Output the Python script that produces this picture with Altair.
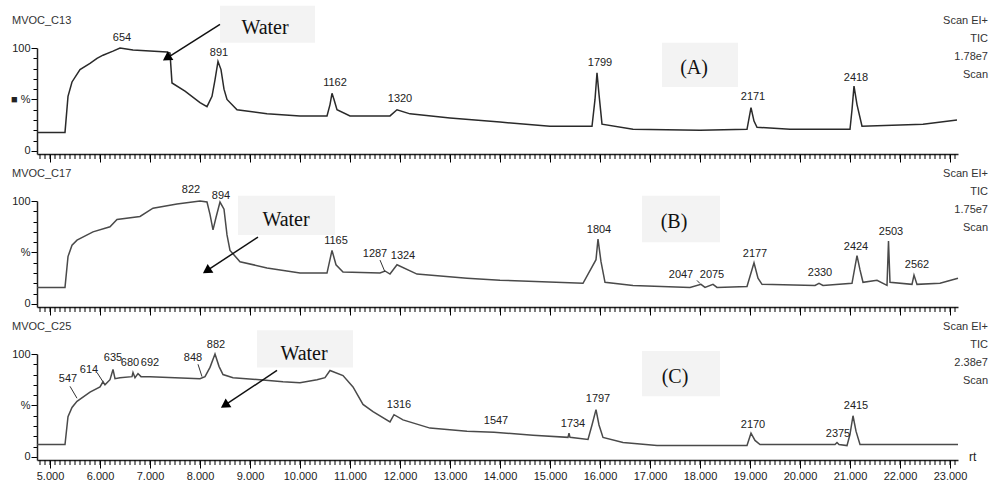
import altair as alt
import pandas as pd
import numpy as np

# ---------------- data: (time [min], relative intensity [%]) ----------------
trace_a = [(4.74, 18), (5.30, 18), (5.36, 53), (5.44, 67), (5.60, 79), (5.80, 85), (5.94, 90), (6.06, 93),
           (6.26, 97), (6.40, 100), (6.66, 98), (7.00, 97), (7.34, 96), (7.40, 95), (7.44, 66), (7.70, 58),
           (8.00, 47), (8.14, 43), (8.24, 53), (8.30, 69), (8.36, 87), (8.42, 79), (8.48, 60), (8.54, 50),
           (8.74, 40), (9.34, 36), (10.00, 34), (10.54, 34), (10.60, 45), (10.64, 56), (10.68, 50), (10.74, 40),
           (11.00, 34), (11.80, 34), (11.94, 40), (12.20, 36), (13.00, 32), (14.00, 28), (15.00, 24), (15.84, 24),
           (15.90, 50), (15.94, 76), (15.98, 55), (16.04, 26), (16.66, 21), (18.00, 20), (18.94, 21), (19.02, 42),
           (19.08, 29), (19.14, 23), (19.80, 21), (21.00, 21), (21.04, 40), (21.08, 63), (21.14, 45), (21.24, 24),
           (22.46, 26), (23.14, 30)]

trace_b = [(4.74, 16), (5.30, 16), (5.36, 46), (5.44, 57), (5.54, 62), (5.86, 70), (6.20, 75), (6.34, 82),
           (6.80, 85), (7.06, 93), (7.54, 97), (8.00, 100), (8.14, 99), (8.20, 87), (8.26, 72), (8.32, 84),
           (8.40, 99), (8.48, 92), (8.54, 67), (8.60, 52), (8.80, 41), (9.34, 35), (10.00, 30), (10.54, 30),
           (10.64, 52), (10.72, 38), (10.86, 31), (11.60, 30), (11.70, 32), (11.80, 29), (11.94, 38), (12.34, 29),
           (13.34, 25), (14.00, 23), (15.66, 20), (15.92, 43), (15.96, 63), (16.02, 41), (16.10, 21), (16.66, 18),
           (17.80, 16), (18.02, 19), (18.10, 16), (18.26, 19), (18.34, 16), (18.94, 17), (19.08, 40), (19.16, 25),
           (19.24, 19), (20.30, 18), (20.38, 20), (20.46, 18), (21.04, 20), (21.14, 47), (21.20, 33), (21.26, 21),
           (21.54, 23), (21.74, 18), (21.77, 61), (21.80, 21), (22.24, 19), (22.28, 28), (22.34, 19), (22.80, 20),
           (23.16, 25)]

trace_c = [(4.74, 12), (5.30, 12), (5.36, 39), (5.44, 48), (5.54, 54), (5.80, 63), (6.00, 68), (6.06, 73),
           (6.10, 70), (6.20, 75), (6.26, 85), (6.30, 76), (6.40, 77), (6.64, 78), (6.66, 82), (6.70, 77),
           (6.76, 81), (6.82, 78), (7.00, 78), (8.00, 76), (8.10, 78), (8.20, 87), (8.30, 100), (8.38, 88),
           (8.46, 80), (8.66, 77), (9.20, 75), (9.66, 73), (10.00, 72), (10.34, 75), (10.50, 77), (10.60, 84),
           (10.86, 79), (11.06, 68), (11.26, 51), (11.46, 44), (11.80, 34), (11.88, 41), (12.06, 36), (12.60, 28),
           (13.34, 25), (13.88, 24), (14.66, 21), (15.36, 19), (15.38, 23), (15.40, 19), (15.76, 17), (15.84, 31),
           (15.92, 46), (15.98, 31), (16.06, 19), (16.46, 14), (17.14, 11), (18.94, 11), (19.02, 23), (19.10, 16),
           (19.20, 12), (20.70, 12), (20.74, 14), (20.78, 12), (20.94, 11), (21.00, 22), (21.06, 40), (21.12, 25),
           (21.20, 12), (22.46, 12), (23.16, 12)]

# peak labels: (scan number, time of label centre, intensity of label centre)
peaks_a = [("654", 6.44, 109.6), ("891", 8.38, 95), ("1162", 10.70, 66), ("1320", 12.0, 50),
           ("1799", 16.0, 85), ("2171", 19.06, 52), ("2418", 21.12, 71)]
peaks_b = [("822", 7.82, 111), ("894", 8.42, 105), ("1165", 10.72, 61), ("1287", 11.5, 48.5),
           ("1324", 12.06, 46.5), ("1804", 15.98, 72), ("2047", 17.62, 28), ("2075", 18.24, 28),
           ("2177", 19.1, 48.5), ("2330", 20.4, 30), ("2424", 21.12, 55), ("2503", 21.82, 70), ("2562", 22.34, 38)]
peaks_c = [("547", 5.36, 75.5), ("614", 5.78, 84), ("635", 6.26, 96), ("680", 6.6, 91), ("692", 7.0, 91),
           ("848", 7.86, 96), ("882", 8.32, 109), ("1316", 11.98, 50), ("1547", 13.92, 35), ("1734", 15.46, 32),
           ("1797", 15.96, 56), ("2170", 19.06, 31), ("2375", 20.76, 22.5), ("2415", 21.12, 49)]

# leader lines from labels to small peaks: (t1, p1, t2, p2)
leaders_a = []
leaders_b = [(11.6, 42.6, 11.7, 31), (17.94, 22.8, 18.0, 19.8)]
leaders_c = [(5.40, 68.6, 5.54, 57), (5.94, 82, 6.06, 73), (7.96, 90, 8.04, 78)]

# light annotation boxes (t1, t2, p_top, p_bottom)
boxes_a = [(8.40, 10.30, 141, 105), (17.24, 18.76, 105, 62)]
boxes_b = [(8.76, 10.70, 105, 67), (16.84, 18.40, 105, 60)]
boxes_c = [(9.14, 11.06, 123, 87), (16.84, 18.40, 103, 59)]

# "Water" text (t, p), arrow start (t, p), arrow head (t, p), panel tag text/position
water_a, arrow_a, head_a, tag_a = (9.3, 119), (8.40, 123), (7.36, 91), ("(A)", 17.88, 81)
water_b, arrow_b, head_b, tag_b = (9.72, 82), (9.16, 65), (8.16, 33), ("(B)", 17.48, 80)
water_c, arrow_c, head_c, tag_c = (10.08, 100), (9.54, 84), (8.52, 51), ("(C)", 17.5, 78)

names = ["MVOC_C13", "MVOC_C17", "MVOC_C25"]
right_heads = [["Scan EI+", "TIC", "1.78e7", "Scan"],
               ["Scan EI+", "TIC", "1.75e7", "Scan"],
               ["Scan EI+", "TIC", "2.38e7", "Scan"]]

major_ticks = list(range(5, 24))
minor_ticks = [round(v, 1) for v in np.arange(4.8, 23.15, 0.1)]
y_ticks = [0, 10, 20, 30, 40, 50, 60, 70, 80, 90, 100]

# ---------------- chart ----------------
W, H = 921, 106
FONT = "Liberation Sans"
SERIF = "Liberation Serif"
XS = alt.Scale(domain=[4.74, 23.16], nice=False, zero=False)
YS = alt.Scale(domain=[-3, 100], nice=False, zero=False)


def panel(i, trace, peaks, leaders, boxes, water, arrow, head, tag, color, pct, bottom):
    xaxis = alt.Axis(values=major_ticks, labels=bottom, title=None, grid=False,
                     format=".3f", labelOverlap=False, labelFlush=False, labelFont=FONT,
                     labelFontSize=11, labelColor="#222", labelPadding=2,
                     tickSize=8, tickColor="#000", tickWidth=1, domainColor="#222", domainWidth=1.5)
    yaxis = alt.Axis(values=y_ticks, title=None, grid=False,
                     labelExpr=f"datum.value == 100 ? '100' : datum.value == 50 ? '{pct}' : datum.value == 0 ? '0' : ''",
                     labelOverlap=False, labelFlush=False, labelFont=FONT, labelFontSize=11,
                     labelColor="#222", labelPadding=1,
                     tickSize={"condition": {"test": "datum.value % 50 == 0", "value": 6}, "value": 4},
                     tickColor="#000", tickWidth=1, domainColor="#222", domainWidth=1.5)

    def X(f):
        return alt.X(f, scale=XS, axis=xaxis)

    def Y(f):
        return alt.Y(f, scale=YS, axis=yaxis)

    tdf = pd.DataFrame(trace, columns=["t", "p"])
    pdf = pd.DataFrame(peaks, columns=["lab", "t", "p"])
    bdf = pd.DataFrame(boxes, columns=["t1", "t2", "p1", "p2"])
    ldf = pd.DataFrame(leaders, columns=["t1", "p1", "t2", "p2"])
    wdf = pd.DataFrame([{"t": water[0], "p": water[1], "txt": "Water"},
                        {"t": tag[1], "p": tag[2], "txt": tag[0]}])
    adf = pd.DataFrame([{"t1": arrow[0], "p1": arrow[1], "t2": head[0], "p2": head[1]}])
    hdf = pd.DataFrame([{"t": head[0], "p": head[1]}])
    mdf = pd.DataFrame({"v": minor_ticks})

    layers = []
    layers.append(alt.Chart(bdf).mark_rect(color="#f3f3f3").encode(
        x=X("t1:Q"), x2="t2:Q", y=Y("p1:Q"), y2="p2:Q"))
    # minor ticks of the time axis
    layers.append(alt.Chart(mdf).mark_rule(color="#000", strokeWidth=1).encode(
        x=X("v:Q"), y=alt.value(H), y2=alt.value(H + 5)))
    layers.append(alt.Chart(tdf).mark_line(color=color, strokeWidth=1.5).encode(
        x=X("t:Q"), y=Y("p:Q")))
    layers.append(alt.Chart(pdf).mark_text(font=FONT, fontSize=11, color="#222",
                                           align="center", baseline="middle").encode(
        x=X("t:Q"), y=Y("p:Q"), text="lab:N"))
    if len(ldf):
        layers.append(alt.Chart(ldf).mark_rule(color="#333", strokeWidth=1).encode(
            x=X("t1:Q"), x2="t2:Q", y=Y("p1:Q"), y2="p2:Q"))
    layers.append(alt.Chart(wdf).mark_text(font=SERIF, fontSize=20, color="#111",
                                           align="center", baseline="middle").encode(
        x=X("t:Q"), y=Y("p:Q"), text="txt:N"))
    layers.append(alt.Chart(adf).mark_rule(color="#111", strokeWidth=1.5).encode(
        x=X("t1:Q"), x2="t2:Q", y=Y("p1:Q"), y2="p2:Q"))
    layers.append(alt.Chart(hdf).mark_point(shape="triangle", filled=True, color="#000",
                                            size=110, angle=236.6, opacity=1).encode(
        x=X("t:Q"), y=Y("p:Q")))

    # header texts outside the plot area
    layers.append(alt.Chart(pd.DataFrame([{"txt": names[i]}])).mark_text(
        font=FONT, fontSize=11, color="#333", align="left", baseline="middle").encode(
        x=alt.value(-25), y=alt.value(-27), text="txt:N"))
    for txt, dy in zip(right_heads[i], [-27, -9, 9, 27]):
        layers.append(alt.Chart(pd.DataFrame([{"txt": txt}])).mark_text(
            font=FONT, fontSize=11, color="#333", align="right", baseline="middle").encode(
            x=alt.value(951), y=alt.value(dy), text="txt:N"))
    if i == 0:
        layers.append(alt.Chart(pd.DataFrame([{"a": 0}])).mark_rule(strokeOpacity=0, strokeWidth=1).encode(
            x=alt.value(-36.5), x2=alt.value(953.5), y=alt.value(-47.5), y2=alt.value(-47.5)))
    if bottom:
        layers.append(alt.Chart(pd.DataFrame([{"txt": "rt"}])).mark_text(
            font=FONT, fontSize=12, color="#222", align="left", baseline="middle").encode(
            x=alt.value(932), y=alt.value(103), text="txt:N"))
        layers.append(alt.Chart(pd.DataFrame([{"a": 0}])).mark_rule(strokeOpacity=0, strokeWidth=1).encode(
            x=alt.value(-36.5), x2=alt.value(953.5), y=alt.value(126.5), y2=alt.value(126.5)))

    return alt.layer(*layers).properties(width=W, height=H)


pa = panel(0, trace_a, peaks_a, leaders_a, boxes_a, water_a, arrow_a, head_a, tag_a, "#2a2a2a", "\u25a0 %", False)
pb = panel(1, trace_b, peaks_b, leaders_b, boxes_b, water_b, arrow_b, head_b, tag_b, "#4a4a4a", "%", False)
pc = panel(2, trace_c, peaks_c, leaders_c, boxes_c, water_c, arrow_c, head_c, tag_c, "#4a4a4a", "%", True)

chart = alt.vconcat(pa, pb, pc, spacing=47, bounds="flush").properties(
    padding=0, background="white"
).configure_view(stroke=None)

chart.save("out.html", embed_options={"renderer": "svg", "actions": False})
